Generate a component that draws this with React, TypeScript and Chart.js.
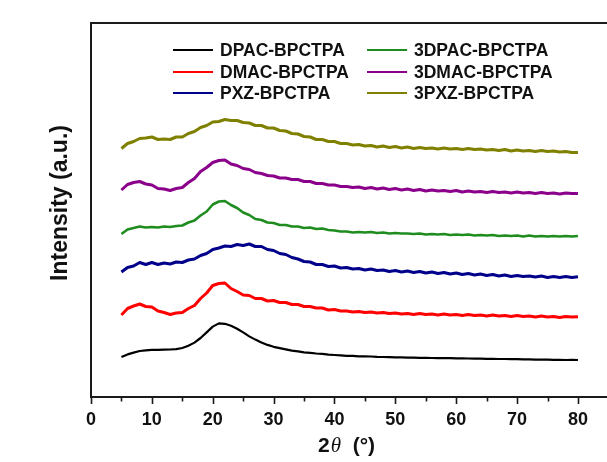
import React, { useEffect, useRef } from "react";
import { Chart, registerables } from "chart.js";

Chart.register(...registerables);

// 2θ sampling (degrees), 5° to 80° in 1° steps
const twoTheta: number[] = Array.from({ length: 76 }, (_, i) => 5 + i);

// Stacked XRD patterns, intensity in arbitrary units (offset per sample)
const dpacBpctpa = [
  40, 42.6, 44.4, 46, 46.6, 47.1, 47.1, 47.4, 47.5, 47.9,
  49, 51.2, 54.4, 59, 64.6, 70.4, 73.6, 73.2, 71.2, 68.3,
  64.6, 60.6, 57.4, 54.6, 52.1, 50.2, 48.9, 47.6, 46.4, 45.6,
  44.7, 44.2, 43.5, 43.1, 42.4, 42, 41.7, 41.2, 41.1, 40.7,
  40.6, 40.5, 40.1, 40, 39.9, 39.6, 39.7, 39.4, 39.4, 39.2,
  39.2, 39, 38.9, 38.9, 38.8, 38.6, 38.7, 38.5, 38.3, 38.4,
  38.2, 38.2, 38, 38, 37.8, 37.8, 37.6, 37.6, 37.4, 37.4,
  37.3, 37.2, 37.2, 37, 37.1, 37,
];
const dmacBpctpa = [
  82, 88.5, 91, 93, 90.5, 90, 86, 84.5, 82.5, 84,
  84.5, 88.5, 91.5, 98.5, 104, 111.5, 113.5, 114, 108.5, 105.5,
  102, 101.5, 98.5, 98.5, 96, 96.5, 94.5, 94.5, 92.5, 92.5,
  90.5, 90.5, 89, 89, 87, 87.5, 86, 86, 85, 85.5,
  84.5, 85, 84, 84.5, 83.5, 84, 83, 83.5, 82.5, 83.5,
  82.5, 83, 82, 83, 82, 82.5, 81.5, 82.5, 81.5, 82,
  81, 82, 81, 81.5, 80.5, 81.5, 80.5, 81, 80, 81,
  80, 80.5, 79.5, 80.5, 80, 80.3,
];
const pxzBpctpa = [
  125, 129.5, 131, 134.5, 132.5, 134.5, 132.5, 134, 133, 135,
  134.5, 137, 138, 141.5, 143.5, 147.5, 149, 151, 150.5, 152.5,
  151.5, 153, 150.5, 150.5, 147.5, 146.5, 143.5, 142.5, 139.5, 138,
  135.5, 135, 132.5, 132.5, 130.5, 131, 129, 129.5, 128, 128.5,
  127, 128, 126.5, 127, 125.5, 126.5, 125, 126, 124.5, 125.5,
  124, 125, 123.5, 124.5, 123, 124, 122.5, 123.5, 122, 123,
  121.5, 122.5, 121, 122, 120.5, 121.5, 120.5, 121, 120, 121,
  119.5, 120.5, 119.5, 120.5, 119.5, 120.3,
];
const dpac3Bpctpa = [
  163, 167.5, 169, 170.5, 169.5, 170, 169.5, 170.5, 170, 171,
  171.5, 174.5, 176.5, 181.5, 185.5, 192.5, 195.5, 196, 192, 189,
  184.5, 182, 178, 177, 174.5, 174, 172, 172, 170.5, 170.5,
  169, 169.5, 168, 168.5, 167, 166.5, 165.5, 165.5, 164.5, 165,
  164.5, 165, 164, 164.5, 163.5, 164, 163.5, 163.5, 163, 163.5,
  162.5, 163, 162.5, 163, 162, 162.5, 162, 162.5, 161.5, 162,
  161.5, 162, 161, 161.5, 161, 161.5, 160.5, 161.5, 160.5, 161,
  160.5, 161, 160.5, 161, 160.5, 161,
];
const dmac3Bpctpa = [
  207, 212.5, 214.5, 215.5, 213, 212, 208.5, 208, 206.5, 208.5,
  209.5, 214.5, 218.5, 225.5, 229.5, 234.5, 236.5, 237, 233, 231.5,
  228.5, 227.5, 224.5, 223.5, 221.5, 221, 219, 219, 217.5, 217.5,
  215.5, 215.5, 213.5, 213.5, 212, 212, 210.5, 210.5, 209.5, 210,
  208.5, 209.5, 208, 209, 207.5, 208.5, 207, 208, 206.5, 207.5,
  206, 207, 206, 206.5, 205.5, 206.5, 205, 206, 205, 205.5,
  204.5, 205.5, 204.5, 205, 204, 205, 204, 204.5, 203.5, 204.5,
  203.5, 204, 203, 204, 203.5, 203.5,
];
const pxz3Bpctpa = [
  248.5, 253.5, 255.5, 258.5, 259, 260, 257.5, 258, 257.5, 260,
  260, 263.5, 265.5, 269.5, 271.5, 275, 275.5, 277.5, 276.5, 276.5,
  274.5, 274, 271.5, 271.5, 269, 269, 266.5, 266, 263.5, 263,
  260.5, 260, 257.5, 257.5, 255.5, 255.5, 253.5, 253.5, 252, 252.5,
  251, 251.5, 250, 251, 249.5, 250.5, 249, 250, 248.5, 249.5,
  248.5, 249, 248, 249, 248, 248.5, 247.5, 248.5, 247.5, 248,
  247, 247.5, 246.5, 247.5, 246, 247, 246, 246.5, 245.5, 246.5,
  245.5, 246, 245, 245.5, 244.5, 244.5,
];

const seriesLabels = [
  "DPAC-BPCTPA",
  "DMAC-BPCTPA",
  "PXZ-BPCTPA",
  "3DPAC-BPCTPA",
  "3DMAC-BPCTPA",
  "3PXZ-BPCTPA",
];
const seriesValues = [dpacBpctpa, dmacBpctpa, pxzBpctpa, dpac3Bpctpa, dmac3Bpctpa, pxz3Bpctpa];
const seriesColors = ["#000000", "#ff0000", "#00008b", "#1e8c1e", "#8b008b", "#808000"];
const seriesWidths = [2.2, 3, 3, 2.6, 3, 3];

const xMajorTicks = [0, 10, 20, 30, 40, 50, 60, 70, 80];
const xMinorTicks = [5, 15, 25, 35, 45, 55, 65, 75];
const xTickLabels = ["0", "10", "20", "30", "40", "50", "60", "70", "80"];

const SANS = "Arial, 'Liberation Sans', Helvetica, sans-serif";

const decorPlugin = {
  id: "decor",
  afterDraw(chart: any) {
    const { ctx, chartArea: a, scales } = chart;
    const xs = scales.x;
    ctx.save();

    // frame: left, top and bottom edges
    ctx.strokeStyle = "#1a1a1a";
    ctx.lineWidth = 2;
    ctx.beginPath();
    ctx.moveTo(a.right + 5, a.bottom);
    ctx.lineTo(a.left, a.bottom);
    ctx.lineTo(a.left, a.top);
    ctx.lineTo(a.right + 5, a.top);
    ctx.stroke();

    // x ticks (outward)
    ctx.lineWidth = 1.6;
    ctx.beginPath();
    xMajorTicks.forEach((v) => {
      const px = Math.round(xs.getPixelForValue(v)) + 0.5;
      ctx.moveTo(px, a.bottom);
      ctx.lineTo(px, a.bottom + 7);
    });
    xMinorTicks.forEach((v) => {
      const px = Math.round(xs.getPixelForValue(v)) + 0.5;
      ctx.moveTo(px, a.bottom);
      ctx.lineTo(px, a.bottom + 4.5);
    });
    ctx.stroke();

    // tick labels
    ctx.fillStyle = "#111";
    ctx.font = `bold 18px ${SANS}`;
    ctx.textAlign = "center";
    ctx.textBaseline = "middle";
    xMajorTicks.forEach((v, i) => {
      ctx.fillText(xTickLabels[i], xs.getPixelForValue(v), a.bottom + 23);
    });

    // x title: 2θ (°)
    const ty = a.bottom + 49;
    const p1 = "2";
    const p2 = "\u03b8";
    const p3 = "  (\u00b0)";
    ctx.textAlign = "left";
    ctx.font = `bold 21px ${SANS}`;
    const w1 = ctx.measureText(p1).width;
    const w3 = ctx.measureText(p3).width;
    ctx.font = `italic 21px 'Liberation Serif', 'Times New Roman', serif`;
    const w2 = ctx.measureText(p2).width;
    let tx = 346 - (w1 + w2 + w3) / 2;
    ctx.font = `bold 21px ${SANS}`;
    ctx.fillText(p1, tx, ty);
    tx += w1 + 1;
    ctx.font = `italic 21px 'Liberation Serif', 'Times New Roman', serif`;
    ctx.fillText(p2, tx, ty);
    tx += w2;
    ctx.font = `bold 21px ${SANS}`;
    ctx.fillText(p3, tx, ty);

    // y title
    ctx.save();
    ctx.translate(61, 203);
    ctx.rotate(-Math.PI / 2);
    ctx.textAlign = "center";
    ctx.font = `bold 23px ${SANS}`;
    ctx.fillText("Intensity (a.u.)", 0, 0);
    ctx.restore();

    // legend: two columns, three rows
    const colX = [173, 367];
    const rowY = [50, 72, 93];
    ctx.font = `bold 17.5px ${SANS}`;
    ctx.textAlign = "left";
    chart.data.datasets.forEach((ds: any, i: number) => {
      const col = Math.floor(i / 3);
      const row = i % 3;
      const x0 = colX[col];
      const y0 = rowY[row];
      ctx.strokeStyle = ds.borderColor;
      ctx.lineWidth = 2;
      ctx.beginPath();
      ctx.moveTo(x0, y0);
      ctx.lineTo(x0 + 40, y0);
      ctx.stroke();
      ctx.fillStyle = "#111";
      ctx.fillText(ds.label, x0 + 47, y0 + 1);
    });

    ctx.restore();
  },
};

export default function App() {
  const canvasRef = useRef<HTMLCanvasElement | null>(null);

  useEffect(() => {
    const canvas = canvasRef.current;
    if (!canvas) return;
    const chart = new Chart(canvas, {
      type: "line",
      data: {
        datasets: seriesLabels.map((label, i) => ({
          label,
          data: twoTheta.map((t, j) => ({ x: t, y: seriesValues[i][j] })),
          borderColor: seriesColors[i],
          backgroundColor: seriesColors[i],
          borderWidth: seriesWidths[i],
          borderJoinStyle: "round" as const,
          pointRadius: 0,
          tension: 0,
          fill: false,
        })),
      },
      options: {
        animation: false,
        responsive: false,
        devicePixelRatio: 1,
        layout: { padding: { left: 91, right: 11.6, top: 23, bottom: 65 } },
        scales: {
          x: { type: "linear", min: 0, max: 85, display: false },
          y: { type: "linear", min: 0, max: 374, display: false },
        },
        plugins: {
          legend: { display: false },
          tooltip: { enabled: false },
        },
      },
      plugins: [decorPlugin],
    });
    return () => chart.destroy();
  }, []);

  return (
    <div
      style={{
        position: "fixed",
        left: 0,
        top: 0,
        width: 607,
        height: 462,
        overflow: "hidden",
        background: "#ffffff",
      }}
    >
      <canvas ref={canvasRef} width={620} height={462} style={{ display: "block" }} />
    </div>
  );
}
